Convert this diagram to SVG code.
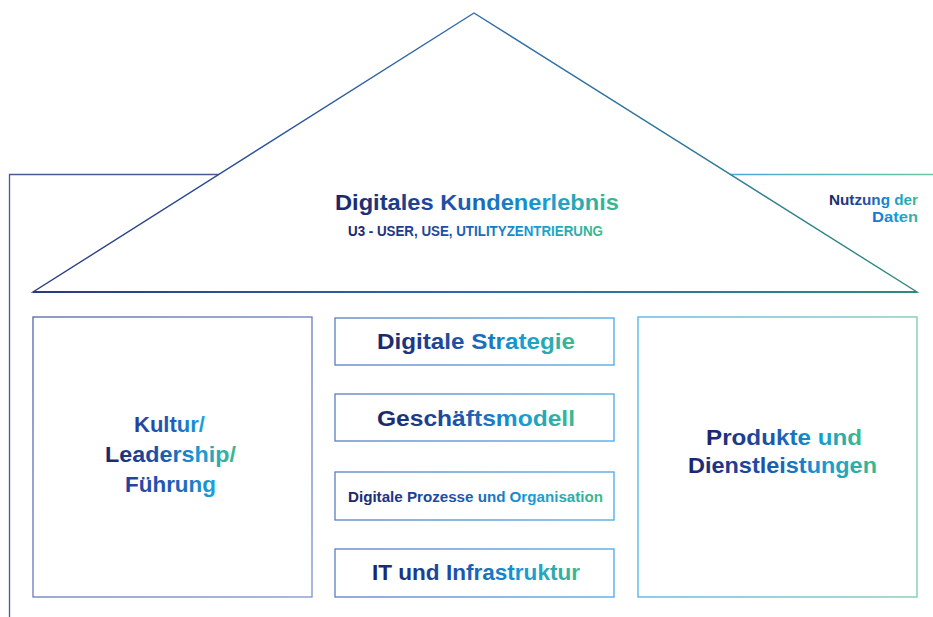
<svg xmlns="http://www.w3.org/2000/svg" width="933" height="617" viewBox="0 0 933 617">
<defs>
<linearGradient id="tg" x1="0" y1="0" x2="1" y2="0">
<stop offset="0" stop-color="#1c2566"/>
<stop offset="0.4" stop-color="#1f4fa8"/>
<stop offset="0.72" stop-color="#159ad8"/>
<stop offset="1" stop-color="#3dba8a"/>
</linearGradient>
<linearGradient id="tg2" x1="0" y1="0" x2="1" y2="0">
<stop offset="0" stop-color="#1a6fd0"/>
<stop offset="0.6" stop-color="#1aa0d8"/>
<stop offset="1" stop-color="#3dba8a"/>
</linearGradient>
<linearGradient id="tg3" x1="0" y1="0" x2="1" y2="0">
<stop offset="0" stop-color="#23409c"/>
<stop offset="0.55" stop-color="#1f5cb8"/>
<stop offset="1" stop-color="#1aa6dc"/>
</linearGradient>
<linearGradient id="roofG" gradientUnits="userSpaceOnUse" x1="33" y1="0" x2="917" y2="0">
<stop offset="0" stop-color="#2a3a80"/>
<stop offset="0.5" stop-color="#2f6aae"/>
<stop offset="1" stop-color="#2e8a80"/>
</linearGradient>
<linearGradient id="rightFrame" gradientUnits="userSpaceOnUse" x1="731" y1="0" x2="933" y2="0">
<stop offset="0" stop-color="#4aa8d8"/>
<stop offset="1" stop-color="#6cc4a4"/>
</linearGradient>
<linearGradient id="leftBox" x1="0" y1="0" x2="1" y2="1">
<stop offset="0" stop-color="#5664a8"/>
<stop offset="1" stop-color="#7a92d0"/>
</linearGradient>
<linearGradient id="midBox" x1="0" y1="0" x2="1" y2="0">
<stop offset="0" stop-color="#5a7cc8"/>
<stop offset="1" stop-color="#48a8e6"/>
</linearGradient>
<linearGradient id="rightBox" x1="0" y1="0" x2="1" y2="0">
<stop offset="0" stop-color="#4cb0ea"/>
<stop offset="1" stop-color="#78c8b0"/>
</linearGradient>
</defs>
<style>
.t{font-family:"Liberation Sans",Arial,sans-serif;font-weight:bold;fill:url(#tg);text-anchor:middle}
.big{font-size:22px}
.box{fill:none;stroke-width:1.3}
</style>
<rect width="933" height="617" fill="#ffffff"/>
<g id="connectors">
<polyline points="9.5,617 9.5,174.5 218.7,174.5" fill="none" stroke="#4a5894" stroke-width="1.3"/>
<line x1="731" y1="174.5" x2="933" y2="174.5" stroke="url(#rightFrame)" stroke-width="1.3"/>
</g>
<g id="roof">
<polygon points="474,13 33,292 917,292" fill="none" stroke="url(#roofG)" stroke-width="1.4"/>
<line x1="33" y1="292" x2="917" y2="292" stroke="url(#roofG)" stroke-width="2"/>
<text class="t" x="477" y="210" font-size="22" textLength="284" lengthAdjust="spacingAndGlyphs">Digitales Kundenerlebnis</text>
<text class="t" x="475.5" y="236" font-size="14.5" textLength="255" lengthAdjust="spacingAndGlyphs">U3 - USER, USE, UTILITYZENTRIERUNG</text>
</g>
<g id="nutzung">
<text class="t" x="873.5" y="205" font-size="14" textLength="89" lengthAdjust="spacingAndGlyphs">Nutzung der</text>
<text class="t" x="895" y="222" font-size="14" textLength="46" lengthAdjust="spacingAndGlyphs" style="fill:url(#tg2)">Daten</text>
</g>
<g id="kultur">
<rect class="box" x="33" y="317" width="279" height="280" stroke="url(#leftBox)"/>
<text class="t big" x="169.5" y="432" textLength="71" lengthAdjust="spacingAndGlyphs" style="fill:url(#tg3)">Kultur/</text>
<text class="t big" x="170.5" y="462" textLength="131" lengthAdjust="spacingAndGlyphs">Leadership/</text>
<text class="t big" x="170.5" y="492" textLength="91" lengthAdjust="spacingAndGlyphs" style="fill:url(#tg3)">Führung</text>
</g>
<g id="strategie">
<rect class="box" x="335" y="318" width="279" height="47" stroke="url(#midBox)"/>
<text class="t big" x="476" y="349" textLength="198" lengthAdjust="spacingAndGlyphs">Digitale Strategie</text>
</g>
<g id="geschaeftsmodell">
<rect class="box" x="335" y="394" width="279" height="47" stroke="url(#midBox)"/>
<text class="t big" x="476" y="426" textLength="198" lengthAdjust="spacingAndGlyphs">Geschäftsmodell</text>
</g>
<g id="prozesse">
<rect class="box" x="335" y="472" width="279" height="48" stroke="url(#midBox)"/>
<text class="t" x="475.5" y="502" font-size="14" textLength="255" lengthAdjust="spacingAndGlyphs">Digitale Prozesse und Organisation</text>
</g>
<g id="it">
<rect class="box" x="335" y="549" width="279" height="48" stroke="url(#midBox)"/>
<text class="t big" x="476" y="580" textLength="208" lengthAdjust="spacingAndGlyphs">IT und Infrastruktur</text>
</g>
<g id="produkte">
<rect class="box" x="638" y="317" width="279" height="280" stroke="url(#rightBox)"/>
<text class="t big" x="784" y="445" textLength="156" lengthAdjust="spacingAndGlyphs">Produkte und</text>
<text class="t big" x="782.5" y="473" textLength="189" lengthAdjust="spacingAndGlyphs">Dienstleistungen</text>
</g>
</svg>
